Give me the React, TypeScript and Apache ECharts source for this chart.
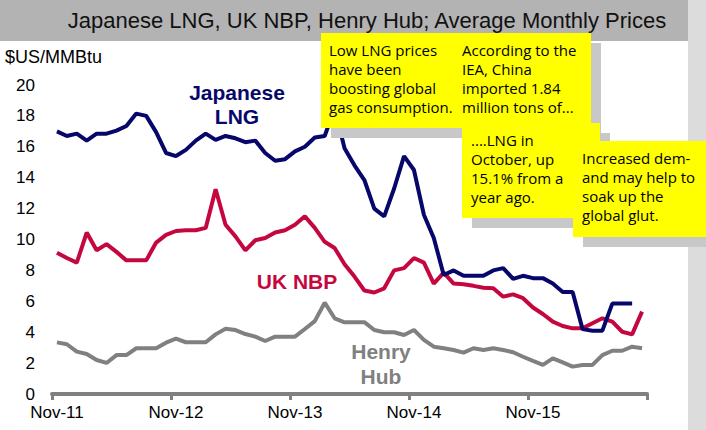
import React, { useEffect, useRef } from "react";
import * as echarts from "echarts";

const months: string[] = [
  "Nov-11","Dec-11","Jan-12","Feb-12","Mar-12","Apr-12","May-12","Jun-12","Jul-12","Aug-12","Sep-12","Oct-12",
  "Nov-12","Dec-12","Jan-13","Feb-13","Mar-13","Apr-13","May-13","Jun-13","Jul-13","Aug-13","Sep-13","Oct-13",
  "Nov-13","Dec-13","Jan-14","Feb-14","Mar-14","Apr-14","May-14","Jun-14","Jul-14","Aug-14","Sep-14","Oct-14",
  "Nov-14","Dec-14","Jan-15","Feb-15","Mar-15","Apr-15","May-15","Jun-15","Jul-15","Aug-15","Sep-15","Oct-15",
  "Nov-15","Dec-15","Jan-16","Feb-16","Mar-16","Apr-16","May-16","Jun-16","Jul-16","Aug-16","Sep-16","Oct-16",
];

const japaneseLNG: (number | null)[] = [
  17.0, 16.7, 16.85, 16.4, 16.85, 16.85, 17.05, 17.35, 18.15, 18.0, 16.95, 15.6,
  15.4, 15.8, 16.4, 16.85, 16.45, 16.7, 16.55, 16.3, 16.4, 15.6, 15.1, 15.2,
  15.7, 16.0, 16.6, 16.7, 18.5, 15.9, 14.8, 13.85, 12.0, 11.5, 13.3, 15.4,
  14.5, 11.6, 10.1, 7.7, 8.0, 7.65, 7.65, 7.65, 8.0, 8.15, 7.45, 7.65,
  7.5, 7.5, 7.15, 6.6, 6.6, 4.2, 4.1, 4.1, 5.85, 5.85, 5.85, null,
];

const ukNBP: number[] = [
  9.15, 8.8, 8.5, 10.45, 9.3, 9.7, 9.2, 8.65, 8.65, 8.65, 9.8, 10.3,
  10.55, 10.6, 10.6, 10.75, 13.25, 10.95, 10.2, 9.3, 9.95, 10.1, 10.45, 10.6,
  10.95, 11.5, 10.75, 9.85, 9.45, 8.4, 7.6, 6.7, 6.57, 6.84, 8.0, 8.15,
  8.8, 8.5, 7.15, 7.85, 7.15, 7.1, 7.0, 6.88, 6.84, 6.3, 6.45, 6.2,
  5.6, 5.18, 4.68, 4.4, 4.25, 4.25, 4.58, 4.9, 4.68, 4.03, 3.86, 5.33,
];

const henryHub: number[] = [
  3.34, 3.22, 2.74, 2.59, 2.2, 2.01, 2.52, 2.52, 2.96, 2.96, 2.96, 3.32,
  3.58, 3.35, 3.35, 3.35, 3.86, 4.23, 4.14, 3.88, 3.71, 3.43, 3.71, 3.71,
  3.71, 4.21, 4.72, 5.91, 4.9, 4.64, 4.65, 4.65, 4.14, 4.0, 4.0, 3.82,
  4.14, 3.5, 3.06, 2.96, 2.85, 2.68, 2.96, 2.85, 2.96, 2.85, 2.7, 2.41,
  2.14, 1.88, 2.31, 2.05, 1.77, 1.88, 1.88, 2.52, 2.8, 2.8, 3.06, 2.96,
];

const titleText = "Japanese LNG, UK NBP, Henry Hub; Average Monthly Prices";
const unitText = "$US/MMBtu";
const note1a = ["Low LNG prices", "have been", "boosting global", "gas consumption."];
const note1b = ["According to the", "IEA, China", "imported 1.84", "million tons of..."];
const note2 = ["....LNG in", "October, up", "15.1% from a", "year ago."];
const note3 = ["Increased dem-", "and may help to", "soak up the", "global glut."];

const NAVY = "#07076b";
const RED = "#c4083f";
const GREY = "#808080";
const YELLOW = "#ffff00";
const SHADOW = "#c8c8c8";
const NOTE_FONT = "'Comic Sans MS', 'Open Sans', sans-serif";
const AX_FONT = "Arial, 'Liberation Sans', sans-serif";

function box(x: number, y: number, w: number, h: number, z: number) {
  return [
    { type: "rect", z: z, shape: { x: x + 10, y: y + 10, width: w, height: h }, style: { fill: SHADOW } },
    { type: "rect", z: z + 1, shape: { x, y, width: w, height: h }, style: { fill: YELLOW } },
  ];
}

function noteText(lines: string[], x: number, y: number, z: number) {
  return {
    type: "text",
    z: z + 2,
    x,
    y,
    style: {
      text: lines.join("\n"),
      fill: "#000",
      fontSize: 15,
      fontFamily: NOTE_FONT,
      lineHeight: 19,
      align: "left",
      verticalAlign: "top",
      textAlign: "left",
      textVerticalAlign: "top",
    },
  };
}

function label(text: string, x: number, y: number, color: string, lh: number) {
  return {
    type: "text",
    z: 50,
    x,
    y,
    style: {
      text,
      fill: color,
      fontSize: 21,
      fontWeight: "bold",
      fontFamily: AX_FONT,
      lineHeight: lh,
      align: "center",
      verticalAlign: "middle",
      textAlign: "center",
      textVerticalAlign: "middle",
    },
  };
}

export default function App() {
  const ref = useRef<HTMLDivElement>(null);
  useEffect(() => {
    if (!ref.current) return;
    const chart = echarts.init(ref.current, null, { renderer: "svg" });
    const graphics: any[] = [
      { type: "rect", z: 0, shape: { x: 0, y: 0, width: 688, height: 41 }, style: { fill: "#b3b3b3" } },
      { type: "rect", z: 0, shape: { x: 688, y: 0, width: 18, height: 430 }, style: { fill: "#dcdcdc" } },
      {
        type: "text", z: 1, x: 367, y: 20,
        style: {
          text: titleText, fill: "#111", fontSize: 22, fontFamily: AX_FONT,
          align: "center", verticalAlign: "middle", textAlign: "center", textVerticalAlign: "middle",
        },
      },
      {
        type: "text", z: 1, x: 5, y: 57,
        style: {
          text: unitText, fill: "#000", fontSize: 18, fontFamily: AX_FONT,
          align: "left", verticalAlign: "middle", textAlign: "left", textVerticalAlign: "middle",
        },
      },
      label("Japanese\nLNG", 237, 104, NAVY, 24),
      label("UK NBP", 297, 281, RED, 24),
      label("Henry\nHub", 381, 364, GREY, 25),
      ...box(321, 33, 270, 95, 100),
      noteText(note1a, 329, 40, 100),
      noteText(note1b, 462, 40, 100),
      ...box(462, 123, 138, 95, 110),
      noteText(note2, 471, 130, 110),
      ...box(573, 141, 140, 96, 120),
      noteText(note3, 582, 148, 120),
    ];
    chart.setOption({
      animation: false,
      grid: { left: 52, right: 59, top: 85, bottom: 36, containLabel: false },
      xAxis: {
        type: "category",
        data: months,
        boundaryGap: true,
        axisLine: { show: true, lineStyle: { color: GREY, width: 4 } },
        axisTick: { show: true, interval: 11, length: 6, lineStyle: { color: GREY, width: 3 } },
        axisLabel: { interval: 11, color: "#000", fontSize: 17, fontFamily: AX_FONT, margin: 10 },
        splitLine: { show: false },
      },
      yAxis: {
        type: "value",
        min: 0,
        max: 20,
        interval: 2,
        axisLine: { show: false },
        axisTick: { show: false },
        splitLine: { show: false },
        axisLabel: { color: "#000", fontSize: 17, fontFamily: AX_FONT, margin: 17 },
      },
      series: [
        { name: "Henry Hub", type: "line", data: henryHub, symbol: "none", lineStyle: { color: GREY, width: 4 }, z: 2 },
        { name: "UK NBP", type: "line", data: ukNBP, symbol: "none", lineStyle: { color: RED, width: 4 }, z: 3 },
        { name: "Japanese LNG", type: "line", data: japaneseLNG, symbol: "none", lineStyle: { color: NAVY, width: 4 }, z: 4 },
      ],
      graphic: { elements: graphics },
    });
    return () => chart.dispose();
  }, []);
  return <div ref={ref} style={{ position: "absolute", left: 0, top: 0, width: 706, height: 430, background: "#fff" }} />;
}
